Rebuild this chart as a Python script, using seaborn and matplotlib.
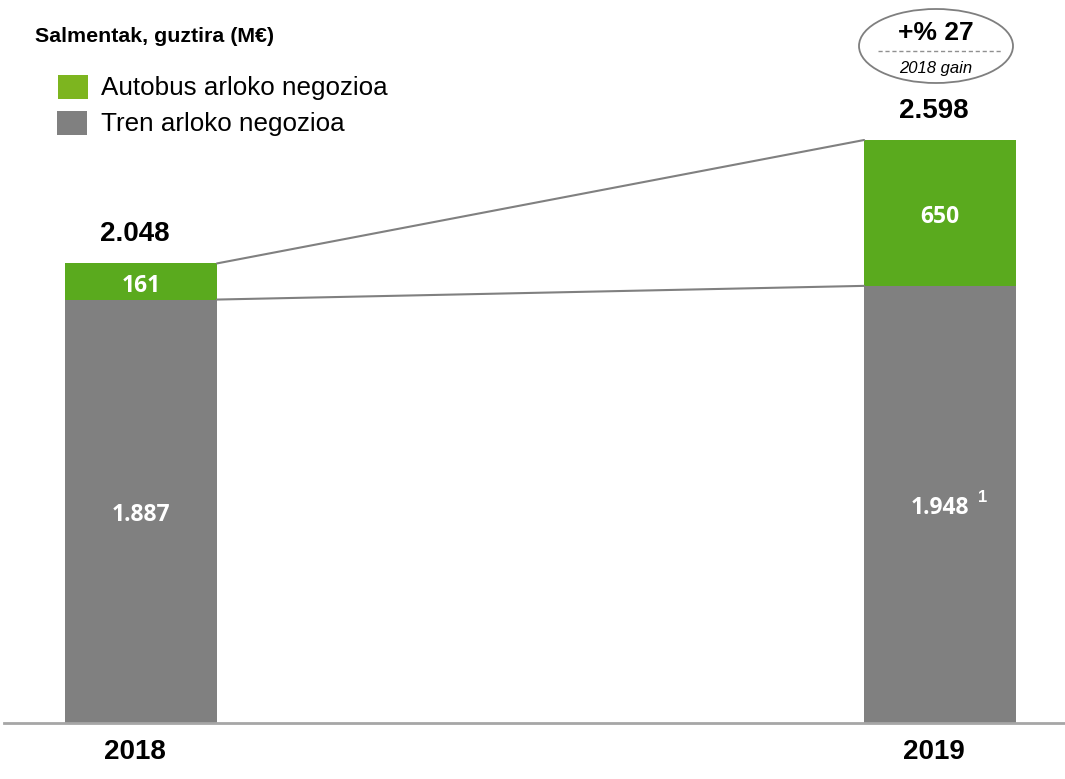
import matplotlib
matplotlib.use("Agg")
import matplotlib.pyplot as plt
from matplotlib.patches import Ellipse, Rectangle
import seaborn as sns
import pandas as pd

years = ["2018", "2019"]
tren = [1887, 1948]
autobus = [161, 650]
totals = [2048, 2598]
tren_labels = ["1.887", "1.948"]
autobus_labels = ["161", "650"]
total_labels = ["2.048", "2.598"]
title = "Salmentak, guztira (M€)"
legend_labels = ["Autobus arloko negozioa", "Tren arloko negozioa"]
gain_main = "+% 27"
gain_sub = "2018 gain"

GREEN = "#5AAA1E"
GREEN_LEG = "#7DB51F"
GRAY = "#808080"
ARIAL = ["Liberation Sans", "DejaVu Sans"]
OPEN = ["Open Sans", "DejaVu Sans"]

sns.set_theme(style="white")
plt.rcParams["font.family"] = ARIAL
plt.rcParams["text.color"] = "black"

W, H = 1065, 779
fig = plt.figure(figsize=(W / 100, H / 100), dpi=100)

def fx(px):
    return px / W

def fy(py):
    return 1 - py / H

base_px = 723
ax = fig.add_axes([0, fy(base_px), 1, base_px / H])

df = pd.DataFrame({"year": years, "tren": tren, "autobus": autobus, "total": totals})
bw = 0.19
sns.barplot(data=df, x="year", y="total", color=GREEN, width=bw, ax=ax,
            saturation=1, linewidth=0, order=years)
sns.barplot(data=df, x="year", y="tren", color=GRAY, width=bw, ax=ax,
            saturation=1, linewidth=0, order=years)

scale = 0.2244  # px per unit
ax.set_ylim(0, base_px / scale)
ax.set_xlim(-141 / 799, 1 + (W - 940) / 799)
ax.set_xlabel("")
ax.set_ylabel("")
ax.set_xticks([])
ax.set_yticks([])
for s in ["top", "right", "left"]:
    ax.spines[s].set_visible(False)
ax.spines["bottom"].set_color("#A6A6A6")
ax.spines["bottom"].set_linewidth(2)
ax.spines["bottom"].set_bounds(-137 / 799, 1 + (W - 940) / 799)

# connector lines
ax.plot([0 + bw / 2, 1 - bw / 2], [totals[0], totals[1]], color=GRAY, lw=1.5, zorder=1)
ax.plot([0 + bw / 2, 1 - bw / 2], [tren[0], tren[1]], color=GRAY, lw=1.5, zorder=1)

dx = -6 / 799
dy = -18
for i in range(len(years)):
    ax.text(i, tren[i] / 2 + dy, tren_labels[i], ha="center", va="center",
            color="white", fontsize=16.5, fontweight="bold", family=OPEN)
    ax.text(i, tren[i] + autobus[i] / 2 + dy, autobus_labels[i], ha="center", va="center",
            color="white", fontsize=16.5, fontweight="bold", family=OPEN)
    ax.text(i + dx, totals[i] + 130, total_labels[i], ha="center", va="center", color="black",
            fontsize=20, fontweight="bold", family=ARIAL)
    ax.text(i + dx, -130, years[i], ha="center", va="center", color="black",
            fontsize=20, fontweight="bold", family=ARIAL, clip_on=False)

# superscript footnote
ax.text(1 + 0.053, tren[1] / 2 + 30, "1", ha="center", va="center", color="white",
        fontsize=12, fontweight="bold", family=ARIAL)

# title
fig.text(fx(35), fy(36), title, ha="left", va="center", fontsize=15.4,
         fontweight="bold", family=ARIAL)

# legend
fig.patches.append(Rectangle((fx(58), fy(99)), fx(30), 24 / H, transform=fig.transFigure,
                             color=GREEN_LEG, lw=0))
fig.patches.append(Rectangle((fx(57), fy(135)), fx(30), 24 / H, transform=fig.transFigure,
                             color=GRAY, lw=0))
fig.text(fx(101), fy(88), legend_labels[0], ha="left", va="center", fontsize=18.7, family=ARIAL)
fig.text(fx(101), fy(124), legend_labels[1], ha="left", va="center", fontsize=18.7, family=ARIAL)

# gain ellipse
fig.patches.append(Ellipse((fx(936), fy(46)), fx(154), 74 / H, transform=fig.transFigure,
                           facecolor="white", edgecolor="#7F7F7F", lw=1.3))
fig.text(fx(936), fy(33), gain_main, ha="center", va="center", fontsize=19,
         fontweight="bold", family=ARIAL)
fig.lines.append(plt.Line2D([fx(878), fx(1003)], [fy(51), fy(51)], transform=fig.transFigure,
                            color="#909090", lw=1, ls=(0, (3, 2))))
fig.text(fx(936), fy(68), gain_sub, ha="center", va="center", fontsize=12,
         style="italic", family=ARIAL)

fig.savefig("out.png", dpi=100)
